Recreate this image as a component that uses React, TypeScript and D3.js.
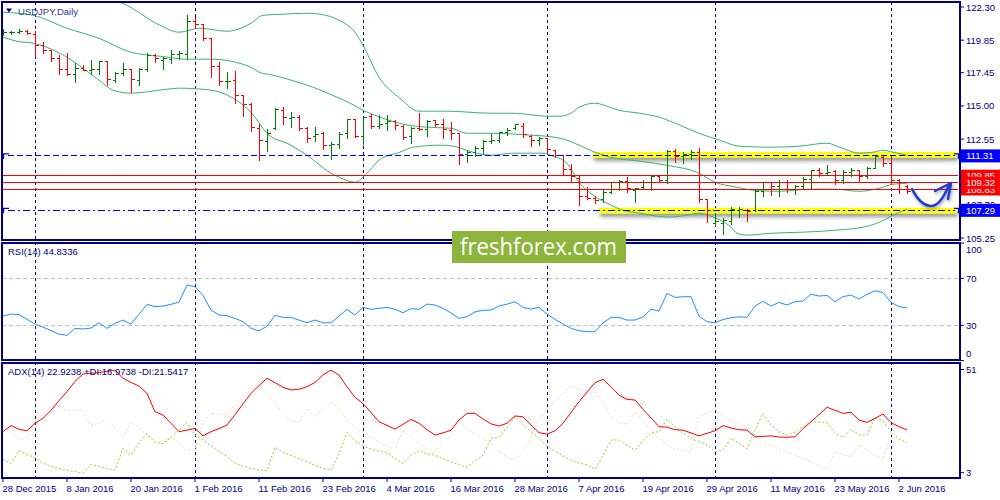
import React from 'react';
import * as d3 from 'd3';

// daily bars, 28 Dec 2015 .. 3 Jun 2016
const barOpen = [
  120.41, 120.39, 120.44, 120.51, 120.27, 119.48, 119.11, 118.5, 117.68, 117.34,
  117.76, 117.63, 117.68, 118.25, 116.9, 117.39, 117.68, 116.9, 117.71, 118.74,
  118.37, 118.42, 118.79, 118.81, 121.2, 121.03, 119.97, 117.93, 116.77, 116.9,
  115.74, 115.1, 113.33, 112.35, 113.33, 114.68, 114.07, 114.14, 113.33, 112.71,
  112.96, 112.05, 112.17, 112.96, 114.02, 112.71, 114.19, 113.5, 113.7, 113.82,
  113.5, 112.71, 113.33, 113.26, 113.9, 113.65, 113.21, 112.96, 111.43, 111.53,
  111.85, 112.35, 112.47, 113.01, 113.33, 113.5, 112.76, 112.47, 112.59, 111.73,
  111.36, 110.3, 109.64, 108.29, 108.16, 108.09, 108.58, 109.32, 109.39, 108.78,
  108.95, 109.32, 109.81, 109.52, 111.61, 111.29, 111.43, 111.53, 108.09, 106.32,
  106.32, 106.44, 107.3, 107.3, 107.25, 108.7, 109.32, 109.02, 109.32, 108.83,
  109.02, 109.59, 110.2, 110.01, 110.13, 109.52, 110.06, 110.2, 109.76, 110.38,
  111.19, 110.75, 109.52, 109.02,
];
const barHigh = [
  120.64, 120.54, 120.64, 120.59, 120.51, 119.73, 119.16, 118.74, 118.91, 118.13,
  118.0, 118.37, 118.3, 118.3, 117.51, 118.13, 117.71, 117.81, 118.91, 118.86,
  118.62, 119.11, 119.04, 121.69, 121.57, 121.08, 120.02, 118.25, 117.51, 117.58,
  115.84, 115.22, 113.65, 113.33, 114.81, 114.93, 114.56, 114.31, 113.45, 113.45,
  113.08, 112.35, 113.08, 114.07, 114.07, 114.19, 114.39, 114.31, 114.31, 113.94,
  113.58, 113.45, 114.44, 113.94, 113.99, 114.07, 113.82, 112.96, 111.73, 112.02,
  112.47, 112.96, 113.08, 113.38, 113.7, 113.75, 112.84, 112.71, 112.66, 111.78,
  111.36, 110.7, 109.89, 109.02, 108.34, 108.78, 109.39, 109.52, 109.76, 108.95,
  109.52, 109.89, 109.89, 111.78, 111.85, 111.61, 111.73, 111.9, 108.16, 107.06,
  106.69, 107.55, 107.55, 107.42, 108.78, 109.39, 109.39, 109.52, 109.52, 109.15,
  109.76, 110.3, 110.38, 110.62, 110.3, 110.25, 110.38, 110.3, 110.5, 111.41,
  111.36, 111.36, 109.57, 109.15,
];
const barLow = [
  120.19, 120.27, 120.32, 120.27, 118.62, 118.86, 118.25, 117.31, 117.19, 116.7,
  117.56, 117.26, 117.26, 116.48, 116.7, 117.19, 115.96, 116.45, 117.51, 118.18,
  117.63, 118.08, 118.37, 118.42, 120.71, 119.8, 117.07, 116.48, 116.28, 115.17,
  114.19, 113.08, 110.94, 111.61, 113.21, 113.58, 113.38, 113.13, 112.27, 112.35,
  111.73, 110.99, 111.85, 112.59, 112.66, 112.1, 113.33, 113.33, 113.13, 113.21,
  112.47, 112.17, 113.16, 112.71, 113.45, 112.59, 112.47, 110.62, 110.8, 111.24,
  111.36, 112.17, 112.27, 112.76, 113.21, 112.64, 111.98, 112.03, 111.48, 111.12,
  109.89, 109.39, 107.6, 108.04, 107.74, 107.84, 108.53, 108.73, 108.58, 107.84,
  108.78, 108.73, 109.39, 109.22, 110.8, 110.7, 111.04, 107.84, 106.37, 106.12,
  105.46, 106.2, 106.69, 106.44, 107.18, 108.29, 108.34, 108.29, 108.58, 108.41,
  108.78, 108.78, 109.76, 109.89, 109.15, 109.22, 109.76, 109.39, 109.57, 110.38,
  110.5, 109.15, 108.53, 108.48,
];
const barClose = [
  120.44, 120.44, 120.51, 120.34, 119.48, 119.11, 118.5, 117.68, 117.34, 117.76,
  117.63, 117.71, 118.25, 116.97, 117.39, 117.68, 116.95, 117.71, 118.74, 118.5,
  118.47, 118.81, 118.86, 121.2, 121.03, 119.97, 117.93, 116.82, 116.82, 115.79,
  115.1, 113.38, 112.42, 112.96, 114.73, 114.14, 114.14, 113.33, 112.59, 112.91,
  112.05, 112.17, 112.91, 114.02, 112.71, 114.14, 113.5, 113.65, 113.82, 113.58,
  112.66, 113.33, 113.26, 113.82, 113.65, 113.26, 112.96, 111.43, 111.53, 111.85,
  112.35, 112.47, 113.01, 113.21, 113.6, 112.91, 112.47, 112.59, 111.78, 111.36,
  110.3, 109.76, 108.29, 108.16, 108.04, 108.58, 109.32, 109.44, 108.9, 108.9,
  109.32, 109.81, 109.52, 111.61, 111.24, 111.43, 111.53, 108.09, 107.25, 106.44,
  106.56, 107.35, 107.35, 107.18, 108.7, 109.32, 109.02, 109.32, 108.83, 109.02,
  109.59, 110.2, 110.01, 110.06, 109.52, 110.06, 110.25, 109.76, 110.38, 111.24,
  110.75, 109.52, 109.32, 108.65,
];

// Bollinger bands: [bar index, price]
const bbUpper: [number, number][] = [
  [0, 123.75], [4, 123.6], [8, 123.1], [12, 123.0], [14, 122.75], [15, 122.55],
  [19.6, 120.96], [22, 120.44], [24.6, 120.73], [28, 120.51], [31, 121.1], [32.5, 121.69],
  [35, 121.77], [38, 121.84], [39.6, 121.77], [42, 121.32], [44, 120.44], [45, 119.48],
  [47, 117.12], [49.6, 115.57], [52, 114.61], [55.5, 114.61], [61, 114.46], [63.75, 114.46],
  [68, 114.24], [69.6, 114.24], [71, 114.46], [72, 114.9], [74, 115.2], [75.5, 114.98],
  [77, 114.68], [79.6, 114.46], [82, 114.17], [84.6, 113.58], [87, 112.98], [89.6, 112.47],
  [92, 112.03], [96, 111.95], [99.6, 112.03], [103, 112.25], [104.6, 111.95], [107, 111.51],
  [108.75, 111.58], [110, 111.73], [111.25, 111.58], [113, 111.36],
];
const bbMiddle: [number, number][] = [
  [0, 121.91], [3.75, 121.69], [8, 120.73], [12, 119.99], [16, 118.96], [19.6, 118.67],
  [23, 118.45], [26, 118.45], [31, 117.86], [32, 117.49], [33.75, 117.27], [36, 116.9],
  [38.75, 116.38], [41.75, 115.64], [43.4, 115.2], [45, 114.68], [47.5, 114.09], [50, 113.65],
  [53, 113.43], [56, 113.35], [58, 112.98], [61, 112.98], [66, 112.84], [68, 112.76],
  [70.5, 112.47], [72, 112.1], [74, 111.58], [76, 111.21], [79.6, 110.92], [83, 110.62],
  [87, 110.03], [89, 109.37], [91.75, 109.0], [93.75, 108.78], [97, 108.7], [101, 108.85],
  [104, 108.85], [107, 108.7], [109.6, 108.93], [111.25, 109.22], [113, 109.29],
];
const bbLower: [number, number][] = [
  [0, 120.07], [1.75, 119.77], [3.75, 119.63], [8, 118.59], [10, 117.78], [12, 116.9],
  [13.75, 116.16], [16, 115.94], [20.5, 116.23], [22, 116.31], [26, 116.16], [28.75, 115.57],
  [31, 114.53], [33, 112.98], [36, 112.1], [38, 111.36], [41, 110.03], [42, 109.74],
  [44, 109.37], [45.5, 110.03], [47, 110.99], [49.6, 111.58], [51.25, 111.95], [54.6, 112.1],
  [56.25, 112.03], [58.75, 111.58], [61, 111.36], [63.75, 111.51], [67.5, 111.51], [68.75, 111.29],
  [70.5, 110.77], [72, 109.37], [73.75, 108.41], [75.5, 107.82], [77.5, 107.3], [79.6, 107.08],
  [81.75, 106.86], [83.4, 106.79], [85.5, 106.93], [87, 107.08], [88.75, 106.79], [91, 106.05],
  [91.75, 105.6], [93, 105.46], [96, 105.6], [100, 105.68], [104.25, 105.83], [107.5, 106.05],
  [109.6, 106.42], [111.25, 106.93], [113, 107.38],
];

const rsiValues = [
  37.9, 39.6, 39.2, 35.1, 31.1, 28.5, 25.5, 22.5, 21.5, 27.4,
  26.9, 27.7, 32.2, 27.4, 31.7, 34.5, 31.1, 39.5, 47.9, 45.9,
  46.4, 47.9, 49.8, 64.3, 62.9, 55.5, 43.0, 38.8, 38.2, 35.9,
  33.1, 27.5, 25.2, 29.4, 38.5, 36.8, 36.8, 34.5, 32.2, 34.5,
  32.2, 32.2, 38.0, 43.6, 38.8, 45.3, 43.6, 44.5, 45.3, 43.6,
  40.8, 44.2, 43.6, 48.1, 47.3, 44.5, 40.5, 35.9, 37.5, 41.5,
  42.8, 43.0, 46.5, 48.0, 50.1, 45.3, 43.9, 45.3, 39.6, 35.1,
  31.1, 27.5, 25.4, 24.6, 24.6, 32.0, 36.8, 36.8, 34.5, 34.5,
  37.3, 43.6, 42.2, 57.2, 53.8, 54.4, 54.4, 37.9, 33.1, 32.2,
  35.0, 36.5, 37.3, 36.8, 46.4, 50.4, 46.4, 49.5, 47.3, 50.1,
  50.7, 56.6, 54.9, 55.5, 50.1, 54.4, 55.8, 52.4, 56.4, 59.5,
  57.8, 49.5, 45.9, 44.8,
];
const adxValues = [
  22.1, 24.9, 23.2, 22.5, 26.0, 28.3, 32.0, 36.5, 40.7, 45.5,
  48.9, 49.3, 49.5, 50.2, 50.7, 46.9, 45.0, 43.3, 39.9, 31.4,
  29.8, 26.0, 22.1, 22.8, 23.6, 20.1, 22.1, 23.5, 25.2, 30.0,
  35.0, 39.9, 43.5, 46.9, 44.9, 42.7, 41.5, 41.8, 43.0, 45.0,
  48.5, 50.7, 48.4, 43.0, 38.0, 35.2, 31.0, 26.7, 25.0, 23.3,
  25.5, 27.8, 26.0, 23.0, 20.5, 21.5, 22.8, 27.5, 30.6, 30.6,
  28.0, 25.7, 24.7, 26.0, 29.4, 29.0, 25.2, 21.6, 21.0, 22.5,
  26.0, 31.0, 36.0, 40.5, 44.9, 46.4, 43.0, 39.1, 37.1, 36.8,
  32.5, 28.5, 24.4, 24.2, 23.0, 22.8, 21.5, 20.1, 21.3, 22.5,
  24.9, 23.8, 23.0, 22.8, 19.7, 19.9, 20.1, 19.6, 19.5, 19.7,
  23.5, 26.7, 30.0, 33.4, 32.0, 30.6, 31.1, 27.5, 26.4, 28.3,
  30.3, 26.3, 24.4, 22.9,
];
const plusDiValues = [
  9.2, 7.3, 13.2, 11.5, 10.0, 7.5, 5.8, 5.0, 4.2, 3.5,
  2.7, 7.0, 6.0, 4.8, 4.2, 14.3, 11.2, 17.0, 21.0, 17.0,
  16.5, 19.4, 23.0, 26.3, 20.5, 18.2, 15.5, 13.0, 10.5, 7.5,
  6.0, 5.0, 4.2, 3.9, 14.8, 12.5, 11.0, 9.5, 8.1, 6.5,
  5.0, 4.2, 12.0, 21.6, 18.0, 15.4, 14.0, 13.0, 12.3, 9.5,
  7.3, 11.0, 13.2, 11.7, 11.2, 9.5, 8.1, 6.8, 5.5, 8.5,
  11.2, 19.0, 19.4, 24.0, 29.0, 25.5, 22.1, 19.0, 15.4, 13.0,
  10.8, 8.8, 7.5, 6.6, 4.6, 11.0, 18.2, 18.2, 15.8, 13.5,
  18.0, 21.6, 22.1, 27.8, 24.4, 21.5, 19.0, 17.4, 16.0, 13.0,
  13.4, 19.0, 16.5, 14.3, 22.8, 30.6, 25.0, 22.0, 20.5, 22.0,
  24.5, 26.7, 26.5, 26.3, 21.6, 19.4, 23.2, 20.5, 20.5, 28.5,
  27.0, 22.0, 18.5, 17.0,
];
const minusDiValues = [
  25.2, 21.8, 18.5, 19.0, 26.5, 30.5, 33.5, 33.8, 31.8, 31.8,
  32.1, 25.0, 26.0, 27.8, 23.8, 19.7, 26.5, 24.0, 20.5, 17.5,
  17.5, 19.5, 17.0, 13.0, 14.0, 26.5, 30.6, 30.2, 29.8, 34.5,
  38.5, 42.5, 44.5, 40.7, 35.0, 31.0, 27.0, 26.3, 32.9, 29.0,
  32.5, 36.0, 32.5, 27.5, 24.0, 21.5, 19.5, 17.4, 15.5, 13.5,
  22.8, 19.5, 16.5, 14.5, 12.8, 19.4, 19.4, 26.7, 23.5, 21.0,
  19.0, 16.5, 13.0, 10.0, 9.0, 12.8, 19.0, 28.0, 32.0, 36.5,
  40.0, 43.0, 42.0, 39.8, 40.7, 35.0, 29.0, 26.0, 25.6, 31.4,
  26.5, 23.0, 19.4, 15.5, 14.0, 13.4, 12.8, 29.0, 30.8, 32.3,
  30.0, 26.8, 25.8, 24.0, 20.5, 16.6, 15.5, 14.0, 12.8, 11.2,
  9.7, 8.0, 6.5, 5.0, 13.0, 11.5, 10.4, 15.9, 13.5, 11.0,
  9.2, 20.5, 24.3, 21.5,
];

const dateLabels = [
  '28 Dec 2015', '8 Jan 2016', '20 Jan 2016', '1 Feb 2016', '11 Feb 2016',
  '23 Feb 2016', '4 Mar 2016', '16 Mar 2016', '28 Mar 2016', '7 Apr 2016',
  '19 Apr 2016', '29 Apr 2016', '11 May 2016', '23 May 2016', '2 Jun 2016',
];
const dateLabelIndex = [0, 8, 16, 24, 32, 40, 48, 56, 64, 72, 80, 88, 96, 104, 112];
const monthStartIndex = [4, 24, 45, 68, 89, 111];

const priceTicks = [122.3, 119.85, 117.45, 115.0, 112.55, 110.1, 107.7, 105.25];
const rsiTicks = [100, 70, 30, 0];
const rsiLevels = [70, 30];
const adxTicks = [51, 3];

const blueLevels = [111.31, 107.29];
const redLevels = [109.85, 108.83, 109.32];
const yellowZones: [number, number, number][] = [
  // [start bar, top price, bottom price]
  [73.75, 111.6, 111.18],
  [74.5, 107.47, 107.05],
];

const NAVY = '#000080';
const FONT = "'Liberation Sans', Arial, sans-serif";

export default function App() {
  const x = d3.scaleLinear().domain([0, 113]).range([3, 907]);
  const yP = d3.scaleLinear().domain([105.25, 122.3]).range([238, 7]);
  const yR = d3.scaleLinear().domain([0, 100]).range([360.6, 243.1]);
  const yA = d3.scaleLinear().domain([3, 51]).range([472.7, 369.5]);

  const bandLine = d3
    .line<[number, number]>()
    .x((d) => x(d[0]))
    .y((d) => yP(d[1]))
    .curve(d3.curveMonotoneX);
  const rsiLine = d3
    .line<number>()
    .x((_, i) => x(i))
    .y((d) => yR(d));
  const adxLine = d3
    .line<number>()
    .x((_, i) => x(i))
    .y((d) => yA(d));

  const plotRight = 958;

  return (
    <svg
      width={1000}
      height={500}
      style={{ position: 'absolute', left: 0, top: 0, background: '#fff' }}
      fontFamily={FONT}
    >
      <defs>
        <clipPath id="clipMain">
          <rect x={2} y={2} width={958} height={238} />
        </clipPath>
        <clipPath id="clipRsi">
          <rect x={2} y={243} width={958} height={117} />
        </clipPath>
        <clipPath id="clipAdx">
          <rect x={2} y={363} width={958} height={115} />
        </clipPath>
        <filter id="shadow" x="-5%" y="-100%" width="110%" height="400%">
          <feDropShadow dx={1} dy={3} stdDeviation={2} floodColor="#333" floodOpacity={0.55} />
        </filter>
        <filter id="arrowShadow" x="-20%" y="-20%" width="140%" height="160%">
          <feDropShadow dx={1} dy={2} stdDeviation={1.5} floodColor="#333" floodOpacity={0.45} />
        </filter>
      </defs>

      <rect x={0} y={0} width={1000} height={500} fill="#fff" />

      {/* month separators */}
      {monthStartIndex.map((i) => (
        <line
          key={i}
          x1={x(i)}
          x2={x(i)}
          y1={2}
          y2={482}
          stroke={NAVY}
          strokeWidth={1}
          strokeDasharray="3 3"
          shapeRendering="crispEdges"
        />
      ))}

      {/* main panel */}
      <g clipPath="url(#clipMain)">
        {yellowZones.map(([start, top, bottom], k) => (
          <rect
            key={k}
            x={x(start)}
            y={yP(top)}
            width={957 - x(start)}
            height={yP(bottom) - yP(top)}
            fill="#ffff00"
            filter="url(#shadow)"
          />
        ))}

        {[bbUpper, bbMiddle, bbLower].map((b, k) => (
          <path key={k} d={bandLine(b) || ''} fill="none" stroke="#3cb371" strokeWidth={1} />
        ))}

        {barOpen.map((o, i) => {
          const c = barClose[i];
          const col = c >= o ? '#007f00' : '#ff0000';
          const cx = Math.round(x(i)) + 0.5;
          return (
            <g key={i} stroke={col} strokeWidth={1} shapeRendering="crispEdges">
              <line x1={cx} x2={cx} y1={yP(barHigh[i])} y2={yP(barLow[i])} />
              <line x1={cx - 3} x2={cx} y1={yP(o)} y2={yP(o)} />
              <line x1={cx} x2={cx + 3} y1={yP(c)} y2={yP(c)} />
            </g>
          );
        })}

        {redLevels.map((v) => (
          <line
            key={v}
            x1={2}
            x2={plotRight}
            y1={yP(v)}
            y2={yP(v)}
            stroke="#ff0000"
            strokeWidth={1}
            shapeRendering="crispEdges"
          />
        ))}

        {blueLevels.map((v, k) => (
          <g key={v} stroke="#0000ff" fill="none" strokeWidth={1}>
            <line
              x1={8}
              x2={955}
              y1={yP(v)}
              y2={yP(v)}
              strokeDasharray={k === 0 ? '6 3' : '7 3 2 3'}
              shapeRendering="crispEdges"
            />
            <path d={`M3.5,${yP(v) + 3} V${yP(v) - 2} H9`} strokeWidth={1.3} />
            <path d={`M954,${yP(v) - 2} H958.5 V${yP(v) + 3}`} strokeWidth={1.3} />
          </g>
        ))}
      </g>

      {/* RSI panel */}
      <g clipPath="url(#clipRsi)">
        {rsiLevels.map((v) => (
          <line
            key={v}
            x1={2}
            x2={960}
            y1={yR(v)}
            y2={yR(v)}
            stroke="#c0c0c0"
            strokeDasharray="4 3"
            shapeRendering="crispEdges"
          />
        ))}
        <path d={rsiLine(rsiValues) || ''} fill="none" stroke="#1e90ff" strokeWidth={1} />
      </g>

      {/* ADX panel */}
      <g clipPath="url(#clipAdx)" fill="none">
        <path d={adxLine(minusDiValues) || ''} stroke="#f5deb3" strokeWidth={1} strokeDasharray="2 2" />
        <path d={adxLine(plusDiValues) || ''} stroke="#9acd32" strokeWidth={1} strokeDasharray="2 2" />
        <path d={adxLine(adxValues) || ''} stroke="#ff0000" strokeWidth={1} />
      </g>

      {/* panel frames */}
      <g fill="none" stroke={NAVY} strokeWidth={1.3} shapeRendering="crispEdges">
        <rect x={2} y={2} width={958} height={238} />
        <rect x={2} y={243} width={958} height={117} />
        <rect x={2} y={363} width={958} height={115} />
      </g>

      {/* price axis */}
      {priceTicks.map((v) => (
        <g key={v}>
          <line x1={960} x2={964} y1={yP(v)} y2={yP(v)} stroke={NAVY} />
          <text x={966} y={yP(v) + 3.5} fontSize={9.5} fill={NAVY}>
            {v.toFixed(2)}
          </text>
        </g>
      ))}
      {redLevels.map((v) => (
        <g key={v}>
          <rect x={961} y={yP(v) - 6} width={39} height={12} fill="#ff0000" />
          <text x={966} y={yP(v) + 3.5} fontSize={9.5} fill="#fff">
            {v.toFixed(2)}
          </text>
        </g>
      ))}
      {blueLevels.map((v) => (
        <g key={v}>
          <rect x={961} y={yP(v) - 6.5} width={39} height={13} fill="#0000ff" />
          <text x={966} y={yP(v) + 3.5} fontSize={9.5} fill="#fff">
            {v.toFixed(2)}
          </text>
        </g>
      ))}

      {/* RSI axis */}
      {rsiTicks.map((v) => {
        const ty = Math.min(Math.max(yR(v), 249), 353);
        return (
          <g key={v}>
            <line x1={960} x2={964} y1={yR(v)} y2={yR(v)} stroke={NAVY} />
            <text x={966} y={ty + 3.5} fontSize={9.5} fill={NAVY}>
              {v}
            </text>
          </g>
        );
      })}

      {/* ADX axis */}
      {adxTicks.map((v) => (
        <g key={v}>
          <line x1={960} x2={964} y1={yA(v)} y2={yA(v)} stroke={NAVY} />
          <text x={966} y={yA(v) + 3.5} fontSize={9.5} fill={NAVY}>
            {v}
          </text>
        </g>
      ))}

      {/* date axis */}
      {dateLabels.map((t, k) => {
        const i = dateLabelIndex[k];
        return (
          <g key={t}>
            <line x1={x(i)} x2={x(i)} y1={478} y2={482} stroke={NAVY} />
            <text x={x(i) - 0.5} y={492} fontSize={9.5} fill={NAVY}>
              {t}
            </text>
          </g>
        );
      })}

      {/* titles */}
      <path d="M6,8.5 L12,8.5 L9,12.5 Z" fill={NAVY} />
      <text x={18} y={14.5} fontSize={9.5} fill="#2a3a9a">
        USDJPY,Daily
      </text>
      <text x={8} y={255} fontSize={9.5} fill={NAVY}>
        RSI(14) 44.8336
      </text>
      <text x={8} y={375} fontSize={9.5} fill={NAVY}>
        ADX(14) 22.9238 +DI:16.9738 -DI:21.5417
      </text>

      {/* logo */}
      <rect x={452} y={231} width={174} height={32} fill="#8db53c" />
      <text
        x={460}
        y={255}
        fontSize={23}
        fontFamily="'Open Sans', 'Noto Sans', sans-serif"
        fill="#fff"
        textLength={157}
        lengthAdjust="spacingAndGlyphs"
      >
        freshforex.com
      </text>

      {/* hand-drawn arrow */}
      <g
        fill="none"
        stroke="#1f3fcf"
        strokeWidth={2.5}
        strokeLinecap="round"
        strokeLinejoin="round"
        filter="url(#arrowShadow)"
      >
        <path d="M912,189 C916,197 921,205 930,206 C938,207 944,197 949,185" />
        <path d="M935,191 L951,183 L948,199" />
      </g>
    </svg>
  );
}
